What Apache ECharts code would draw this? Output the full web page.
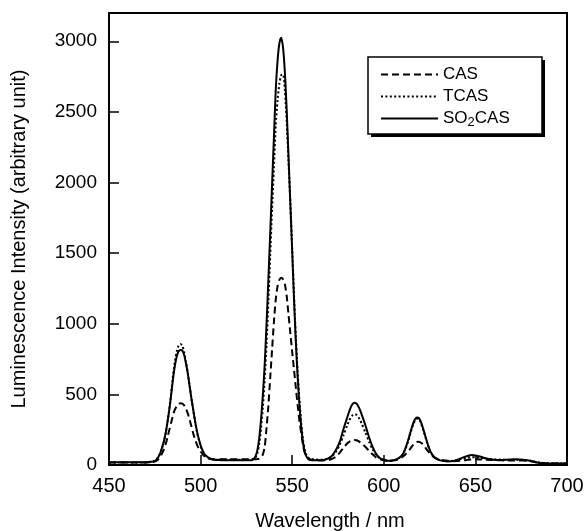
<!DOCTYPE html>
<html>
<head>
<meta charset="utf-8">
<script src="https://cdn.jsdelivr.net/npm/echarts@6/dist/echarts.min.js"></script>
<style>
  html, body { margin: 0; padding: 0; background: #fff; }
  #chart { width: 588px; height: 531px; }
</style>
</head>
<body>
<div id="chart"></div>
<script>
// Wavelength (nm) sample positions
const wavelength = [
  450, 455, 460, 465, 470, 472, 474,
  475, 476, 477, 478, 479, 480, 481, 482, 483, 484, 485, 486, 487, 488, 489, 490, 491, 492, 493, 494,
  495, 496, 497, 498, 499, 500, 501, 502, 503, 504, 505, 506, 507, 508, 509, 510,
  512, 515, 518, 521, 524, 526, 528,
  529, 530, 531, 532, 533, 534, 535, 536, 537, 538, 539, 540, 541, 542, 543, 544, 545, 546, 547, 548,
  549, 550, 551, 552, 553, 554, 555, 556, 557, 558, 559, 560, 561, 562,
  564, 566, 568, 570, 572, 574, 576, 578, 580, 581, 582, 583, 584, 585, 586, 587, 588,
  590, 592, 594, 596, 598, 600, 602, 604, 606, 608, 610,
  611, 612, 613, 614, 615, 616, 617, 618, 619, 620, 621, 622, 623, 624, 625, 626,
  628, 630, 632, 635, 638, 640, 643, 646, 648, 650, 653, 656, 660, 664, 668, 672, 676, 680, 683, 686, 690, 695, 700
];

// CAS (dashed)
const cas = [
  18, 18, 18, 18, 18, 20, 22,
  25, 30, 42, 58, 82, 112, 150, 200, 252, 305, 355, 393, 418, 432, 437, 435, 422, 398, 365, 322,
  272, 222, 180, 145, 118, 95, 77, 63, 54, 48, 44, 42, 40, 40, 40, 40,
  40, 40, 40, 40, 40, 40, 40,
  40, 40, 42, 45, 55, 75, 130, 265, 420, 617, 814, 1010, 1170, 1265, 1310, 1326, 1315, 1280, 1195, 1063,
  932, 800, 673, 545, 420, 307, 220, 132, 82, 58, 46, 40, 37, 35,
  33, 32, 33, 36, 45, 60, 88, 122, 152, 163, 171, 176, 177, 175, 170, 162, 152,
  127, 100, 74, 52, 40, 34, 30, 30, 33, 40, 55,
  65, 78, 92, 108, 125, 142, 155, 163, 165, 160, 150, 135, 118, 100, 84, 70,
  50, 40, 35, 30, 27, 28, 32, 37, 39, 40, 39, 37, 35, 33, 32, 32, 31, 27, 20, 15, 12, 10, 10
];

// TCAS (dotted)
const tcas = [
  18, 18, 18, 18, 18, 20, 24,
  30, 40, 58, 85, 122, 168, 228, 310, 405, 515, 640, 735, 805, 845, 857, 845, 800, 730, 650, 560,
  468, 385, 305, 235, 180, 135, 100, 78, 62, 52, 46, 42, 40, 39, 38, 38,
  38, 38, 38, 38, 38, 38, 40,
  45, 55, 85, 150, 260, 410, 610, 860, 1160, 1480, 1810, 2100, 2400, 2580, 2700, 2760, 2765, 2650, 2430, 2150,
  1850, 1530, 1200, 900, 650, 450, 285, 170, 100, 65, 50, 44, 41, 40,
  38, 38, 40, 48, 65, 95, 145, 210, 280, 312, 337, 353, 360, 356, 342, 320, 292,
  228, 162, 108, 68, 45, 35, 30, 30, 35, 46, 68,
  90, 120, 155, 198, 243, 283, 313, 328, 325, 305, 270, 228, 185, 143, 108, 80,
  50, 38, 32, 28, 30, 36, 45, 52, 55, 54, 50, 45, 40, 38, 38, 38, 36, 30, 22, 15, 12, 10, 10
];

// SO2CAS (solid)
const so2cas = [
  20, 20, 20, 20, 20, 22, 25,
  30, 40, 58, 85, 125, 170, 230, 310, 400, 505, 615, 705, 770, 805, 814, 810, 780, 720, 650, 560,
  470, 390, 310, 240, 185, 140, 105, 80, 65, 55, 46, 41, 38, 36, 35, 35,
  34, 33, 33, 33, 33, 33, 34,
  43, 62, 105, 190, 325, 500, 715, 1000, 1315, 1640, 1980, 2310, 2650, 2860, 2985, 3025, 2955, 2780, 2510, 2180,
  1845, 1510, 1170, 870, 620, 420, 260, 150, 85, 55, 40, 35, 33, 33,
  33, 34, 38, 48, 70, 110, 165, 255, 335, 375, 410, 432, 441, 436, 418, 390, 355,
  280, 195, 125, 75, 48, 36, 30, 30, 36, 48, 70,
  93, 125, 163, 208, 253, 293, 323, 337, 334, 313, 278, 235, 190, 147, 111, 83,
  50, 36, 30, 25, 28, 36, 52, 66, 71, 68, 58, 46, 38, 36, 38, 40, 38, 30, 20, 13, 10, 10, 10
];

const seriesNames = ['CAS', 'TCAS', 'SO2CAS'];
const xTicks = { min: 450, max: 700, step: 50 };
const yTicks = { min: 0, max: 3200, step: 500 };

const FONT = "'Liberation Sans', Arial, Helvetica, sans-serif";
const pair = (vals) => wavelength.map((w, i) => [w, vals[i]]);

const chart = echarts.init(document.getElementById('chart'), null, { renderer: 'canvas' });

chart.setOption({
  animation: false,
  backgroundColor: '#ffffff',
  grid: {
    left: 109, right: 21, top: 13, bottom: 66,
    containLabel: false,
    outerBoundsMode: 'none',
    show: true, borderColor: '#000', borderWidth: 2, backgroundColor: 'transparent'
  },
  graphic: [
    { type: 'rect', z: 10, shape: { x: 371, y: 60, width: 174, height: 77 }, style: { fill: '#000' }, silent: true },
    { type: 'rect', z: 11, shape: { x: 368, y: 57, width: 174, height: 77 }, style: { fill: '#fff', stroke: '#000', lineWidth: 1.5 }, silent: true }
  ],
  xAxis: {
    type: 'value',
    min: xTicks.min, max: xTicks.max, interval: xTicks.step,
    axisLine: { show: true, onZero: false, lineStyle: { color: '#000', width: 2 } },
    axisTick: { show: true, inside: true, length: 10, lineStyle: { color: '#000', width: 1.5 } },
    axisLabel: { color: '#000', fontSize: 20, margin: 11, fontFamily: FONT },
    splitLine: { show: false },
    name: 'Wavelength / nm',
    nameLocation: 'middle',
    nameGap: 46,
    nameTextStyle: { color: '#000', fontSize: 20, fontFamily: FONT, padding: [0, 16, 0, 0] }
  },
  yAxis: {
    type: 'value',
    min: yTicks.min, max: yTicks.max, interval: yTicks.step,
    axisLine: { show: true, lineStyle: { color: '#000', width: 2 } },
    axisTick: { show: true, inside: true, length: 10, lineStyle: { color: '#000', width: 1.5 } },
    axisLabel: {
      color: '#000', fontSize: 19, margin: 12, fontFamily: FONT,
      showMaxLabel: false,
      formatter: (v) => (v > 3000 ? '' : String(v))
    },
    splitLine: { show: false },
    name: 'Luminescence Intensity (arbitrary unit)',
    nameLocation: 'middle',
    nameGap: 80,
    nameTextStyle: { color: '#000', fontSize: 20, fontFamily: FONT }
  },
  legend: {
    orient: 'vertical',
    left: 368, top: 57,
    z: 20,
    data: seriesNames,
    itemWidth: 57, itemHeight: 14, itemGap: 5,
    padding: [9, 32, 7, 12],
    itemStyle: { opacity: 0, borderWidth: 0 },
    formatter: (name) => name === 'SO2CAS' ? 'SO{sub|2}CAS' : name,
    textStyle: {
      color: '#000', fontSize: 17, fontFamily: FONT,
      rich: {
        sub: { fontSize: 13, fontFamily: FONT, color: '#000', verticalAlign: 'bottom', padding: [7, 0, 0, 0] }
      }
    }
  },
  series: [
    {
      name: 'CAS', type: 'line', data: pair(cas), showSymbol: false, symbol: 'none', smooth: 0.25,
      lineStyle: { color: '#000', width: 2, type: [7, 4] }, itemStyle: { color: '#000' }
    },
    {
      name: 'TCAS', type: 'line', data: pair(tcas), showSymbol: false, symbol: 'none', smooth: 0.25,
      lineStyle: { color: '#000', width: 2, type: [2, 2.4] }, itemStyle: { color: '#000' }
    },
    {
      name: 'SO2CAS', type: 'line', data: pair(so2cas), showSymbol: false, symbol: 'none', smooth: 0.25,
      lineStyle: { color: '#000', width: 2, type: 'solid' }, itemStyle: { color: '#000' }
    }
  ]
});
</script>
</body>
</html>
